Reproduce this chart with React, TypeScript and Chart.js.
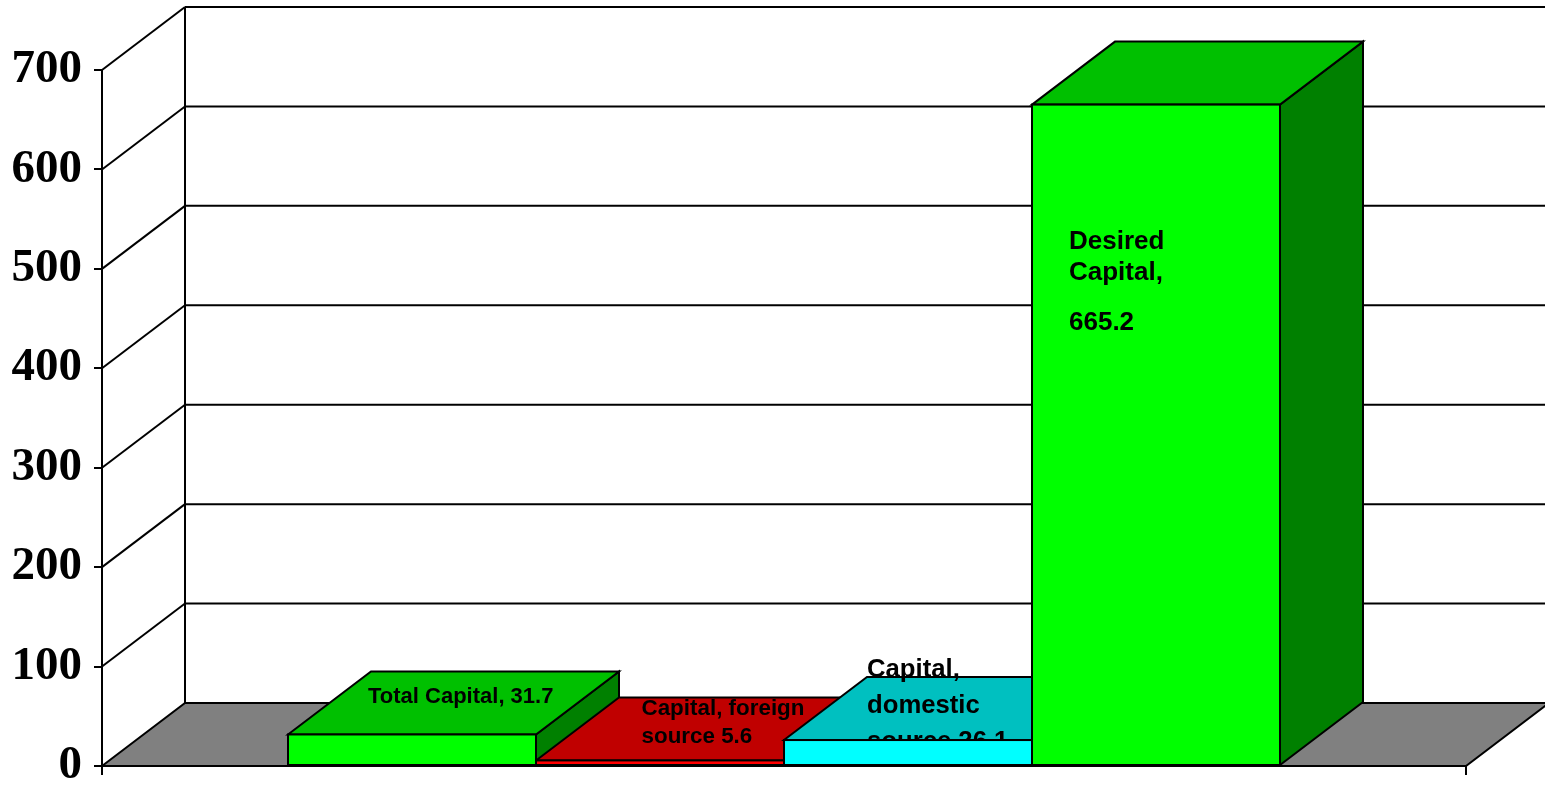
import React, { useEffect, useRef } from 'react';
import { Chart, registerables } from 'chart.js';

Chart.register(...registerables);

// ---- data ----
const categories = [''];
const seriesNames = ['Total Capital', 'Capital, foreign source', 'Capital, domestic source', 'Desired Capital'];
const seriesValues = [31.7, 5.6, 26.1, 665.2];
const yTickValues = [0, 100, 200, 300, 400, 500, 600, 700];
const dataLabelLines = [
  ['Total Capital, 31.7'],
  ['Capital, foreign', 'source 5.6'],
  ['Capital,', 'domestic', 'source 26.1'],
  ['Desired', 'Capital,', '665.2'],
];

// ---- styles ----
const frontColors = ['#00FF00', '#FF0000', '#00FFFF', '#00FF00'];
const topColors = ['#00C000', '#C00000', '#00C0C0', '#00C000'];
const sideColors = ['#008000', '#800000', '#008080', '#008000'];
const FLOOR_COLOR = '#808080';
const DEPTH_X = 83;
const DEPTH_Y = 63;
const labelFontSizes = [22, 22.4, 25.7, 26];
const labelDx = [80, 105.5, 83, 37];
const labelBaselineDy = [[-31.5], [-45.4, -17.4], [-63.3, -27, 9], [144.7, 175.4, 225.4]];
const labelOverFront = [true, true, false, true];

function poly(ctx: CanvasRenderingContext2D, pts: number[][], fill: string) {
  ctx.beginPath();
  ctx.moveTo(pts[0][0], pts[0][1]);
  for (let i = 1; i < pts.length; i++) ctx.lineTo(pts[i][0], pts[i][1]);
  ctx.closePath();
  ctx.fillStyle = fill;
  ctx.fill();
  ctx.stroke();
}

function seg(ctx: CanvasRenderingContext2D, x1: number, y1: number, x2: number, y2: number) {
  ctx.beginPath();
  ctx.moveTo(x1, y1);
  ctx.lineTo(x2, y2);
  ctx.stroke();
}

function barGeom(chart: any, i: number) {
  const el = chart.getDatasetMeta(i).data[0] as any;
  const x1 = el.x - el.width / 2;
  const x2 = el.x + el.width / 2;
  return { x1, x2, top: el.y, base: el.base };
}

function drawLabel(chart: any, i: number) {
  const ctx = chart.ctx as CanvasRenderingContext2D;
  const g = barGeom(chart, i);
  ctx.save();
  ctx.fillStyle = '#000';
  ctx.textAlign = 'left';
  ctx.textBaseline = 'alphabetic';
  ctx.font = `bold ${labelFontSizes[i]}px "Liberation Sans", Arial, sans-serif`;
  dataLabelLines[i].forEach((line, k) => {
    ctx.fillText(line, g.x1 + labelDx[i], g.top + labelBaselineDy[i][k]);
  });
  ctx.restore();
}

const threeDPlugin = {
  id: 'threeD',
  beforeDatasetsDraw(chart: any) {
    const ctx = chart.ctx as CanvasRenderingContext2D;
    const { chartArea, scales } = chart;
    const ys = scales.y;
    const left = chartArea.left;
    const right = chartArea.right;
    const bottom = ys.getPixelForValue(0);
    const topV = ys.getPixelForValue(yTickValues[yTickValues.length - 1]);
    ctx.save();
    ctx.lineWidth = 2;
    ctx.strokeStyle = '#000';
    // walls
    for (const v of yTickValues) {
      if (v === 0) continue;
      const py = ys.getPixelForValue(v);
      seg(ctx, left, py, left + DEPTH_X, py - DEPTH_Y);
      seg(ctx, left + DEPTH_X, py - DEPTH_Y, right + DEPTH_X, py - DEPTH_Y);
    }
    seg(ctx, left + DEPTH_X, topV - DEPTH_Y, left + DEPTH_X, bottom - DEPTH_Y);
    // floor
    poly(ctx, [[left, bottom], [left + DEPTH_X, bottom - DEPTH_Y], [right + DEPTH_X, bottom - DEPTH_Y], [right, bottom]], FLOOR_COLOR);
    // bar sides and tops
    for (let i = 0; i < seriesValues.length; i++) {
      const g = barGeom(chart, i);
      poly(ctx, [[g.x2, g.top], [g.x2 + DEPTH_X, g.top - DEPTH_Y], [g.x2 + DEPTH_X, g.base - DEPTH_Y], [g.x2, g.base]], sideColors[i]);
      poly(ctx, [[g.x1, g.top], [g.x1 + DEPTH_X, g.top - DEPTH_Y], [g.x2 + DEPTH_X, g.top - DEPTH_Y], [g.x2, g.top]], topColors[i]);
    }
    ctx.restore();
    for (let i = 0; i < seriesValues.length; i++) if (!labelOverFront[i]) drawLabel(chart, i);
  },
  afterDatasetsDraw(chart: any) {
    const ctx = chart.ctx as CanvasRenderingContext2D;
    ctx.save();
    ctx.lineWidth = 2;
    ctx.strokeStyle = '#000';
    for (let i = 0; i < seriesValues.length; i++) {
      const g = barGeom(chart, i);
      ctx.strokeRect(g.x1, g.top, g.x2 - g.x1, g.base - g.top);
    }
    ctx.restore();
    for (let i = 0; i < seriesValues.length; i++) if (labelOverFront[i]) drawLabel(chart, i);
  },
};

export default function App() {
  const ref = useRef<HTMLCanvasElement | null>(null);
  useEffect(() => {
    if (!ref.current) return;
    const chart = new Chart(ref.current, {
      type: 'bar',
      data: {
        labels: categories,
        datasets: seriesNames.map((name, i) => ({
          label: name,
          data: [seriesValues[i]],
          backgroundColor: frontColors[i],
          borderWidth: 0,
          categoryPercentage: 8 / 11,
          barPercentage: 1,
        })),
      },
      options: {
        animation: false,
        responsive: false,
        devicePixelRatio: 1,
        events: [],
        layout: { padding: { left: 0, right: 79, top: 70, bottom: 0 } },
        plugins: { legend: { display: false }, tooltip: { enabled: false } },
        scales: {
          x: {
            ticks: { display: false },
            grid: { drawOnChartArea: false, color: '#000', lineWidth: 2, tickLength: 9, offset: true },
            border: { color: '#000', width: 2 },
            afterFit: (s: any) => { s.height = 21; s.paddingLeft = 0; s.paddingRight = 0; },
          },
          y: {
            min: 0,
            max: 700,
            ticks: {
              stepSize: 100,
              color: '#000',
              padding: 12,
              font: { family: '"Liberation Serif", "Times New Roman", serif', size: 47, weight: 'bold' },
            },
            grid: { drawOnChartArea: false, color: '#000', lineWidth: 2, tickLength: 8 },
            border: { color: '#000', width: 2 },
            afterFit: (s: any) => { s.width = 102; s.paddingTop = 0; s.paddingBottom = 0; },
          },
        },
      },
      plugins: [threeDPlugin],
    } as any);
    return () => chart.destroy();
  }, []);
  return (
    <div style={{ position: 'absolute', left: 0, top: 0, width: 1545, height: 787, background: '#fff' }}>
      <canvas ref={ref} width={1545} height={787} style={{ display: 'block' }} />
    </div>
  );
}
